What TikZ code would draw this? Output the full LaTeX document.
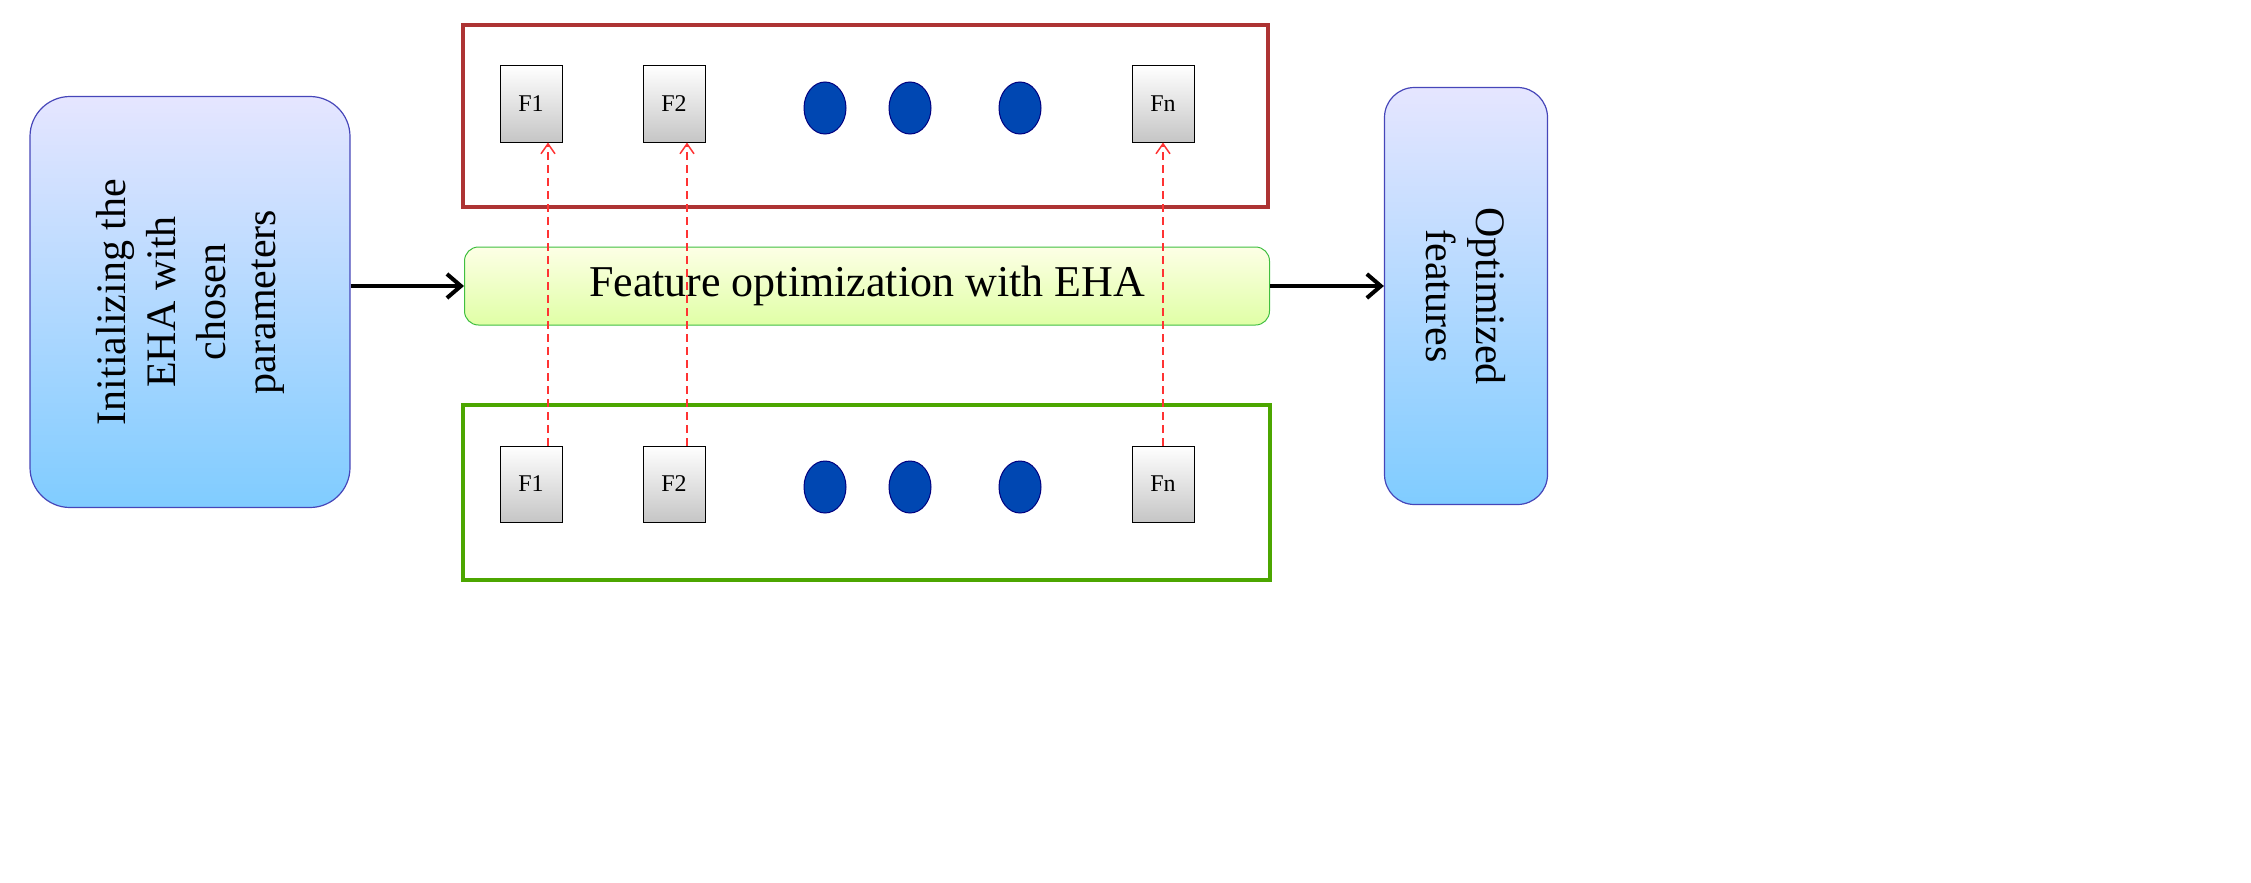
\documentclass[tikz,border=0pt]{standalone}
\usepackage{fontspec}
\setmainfont{Liberation Serif}
\usetikzlibrary{shapes.geometric,arrows.meta}
\begin{document}
\begin{tikzpicture}[x=1pt,y=-1pt,
 side/.style={draw=blue!45!gray,rounded corners=40pt,top color=blue!10,bottom color=blue!40!cyan!50,line width=1.2pt},
 fbox/.style={draw=black,line width=1pt,top color=white,bottom color=gray!45,minimum width=62pt,minimum height=76pt,inner sep=0pt,font=\fontsize{24}{28}\selectfont},
 dot/.style={ellipse,draw=blue!50!black,fill=blue!60!cyan!70!black,minimum width=42pt,minimum height=52pt,inner sep=0pt,line width=1pt},
 redlink/.style={draw=red!80,dash pattern=on 8pt off 5pt,line width=1.5pt,-{Straight Barb[length=10pt,width=14pt]}},
 bigarrow/.style={draw=black,line width=4pt,-{Straight Barb[length=14pt,width=24pt]}}]
\useasboundingbox (0,0) rectangle (2251,883);
\begin{scope}[overlay]
\node[side,minimum width=320pt,minimum height=411pt] (L) at (190,302) {};
\node[rotate=90,align=center,font=\fontsize{42}{50}\selectfont] at (L) {Initializing the\\EHA with\\chosen\\parameters};
\node[side,rounded corners=30pt,minimum width=163pt,minimum height=417pt] (R) at (1466,296) {};
\node[rotate=-90,align=center,font=\fontsize{42}{50}\selectfont] at (R) {Optimized\\features};
\node[draw=red!60!black!80,line width=4pt,minimum width=805pt,minimum height=182pt,inner sep=0pt] (T) at (865,116) {};
\node[draw=green!50!black!70!yellow,line width=4pt,minimum width=807pt,minimum height=175pt,inner sep=0pt] (B) at (866,492) {};
\node[draw=green!50!gray,rounded corners=14pt,top color=green!8!yellow!10,bottom color=green!35!yellow!35,line width=1pt,minimum width=805pt,minimum height=78pt,font=\fontsize{44}{50}\selectfont] (M) at (867,286) {Feature optimization with EHA};
\foreach \n/\x/\t in {1/531/F1,2/674/F2,3/1163/Fn}{
 \node[fbox] (t\n) at (\x,104) {\t};
 \node[fbox] (b\n) at (\x,484) {\t};}
\foreach \n/\x in {1/825,2/910,3/1020}{
 \node[dot] (td\n) at (\x,108) {};
 \node[dot] (bd\n) at (\x,487) {};}
\foreach \n/\d in {1/17,2/13,3/0}{
 \draw[redlink] ([xshift=\d pt]b\n.north) -- ([xshift=\d pt]t\n.south);}
\draw[bigarrow] (L.east |- M) -- (M.west);
\draw[bigarrow] (M.east) -- (R.west |- M);
\end{scope}
\end{tikzpicture}
\end{document}
